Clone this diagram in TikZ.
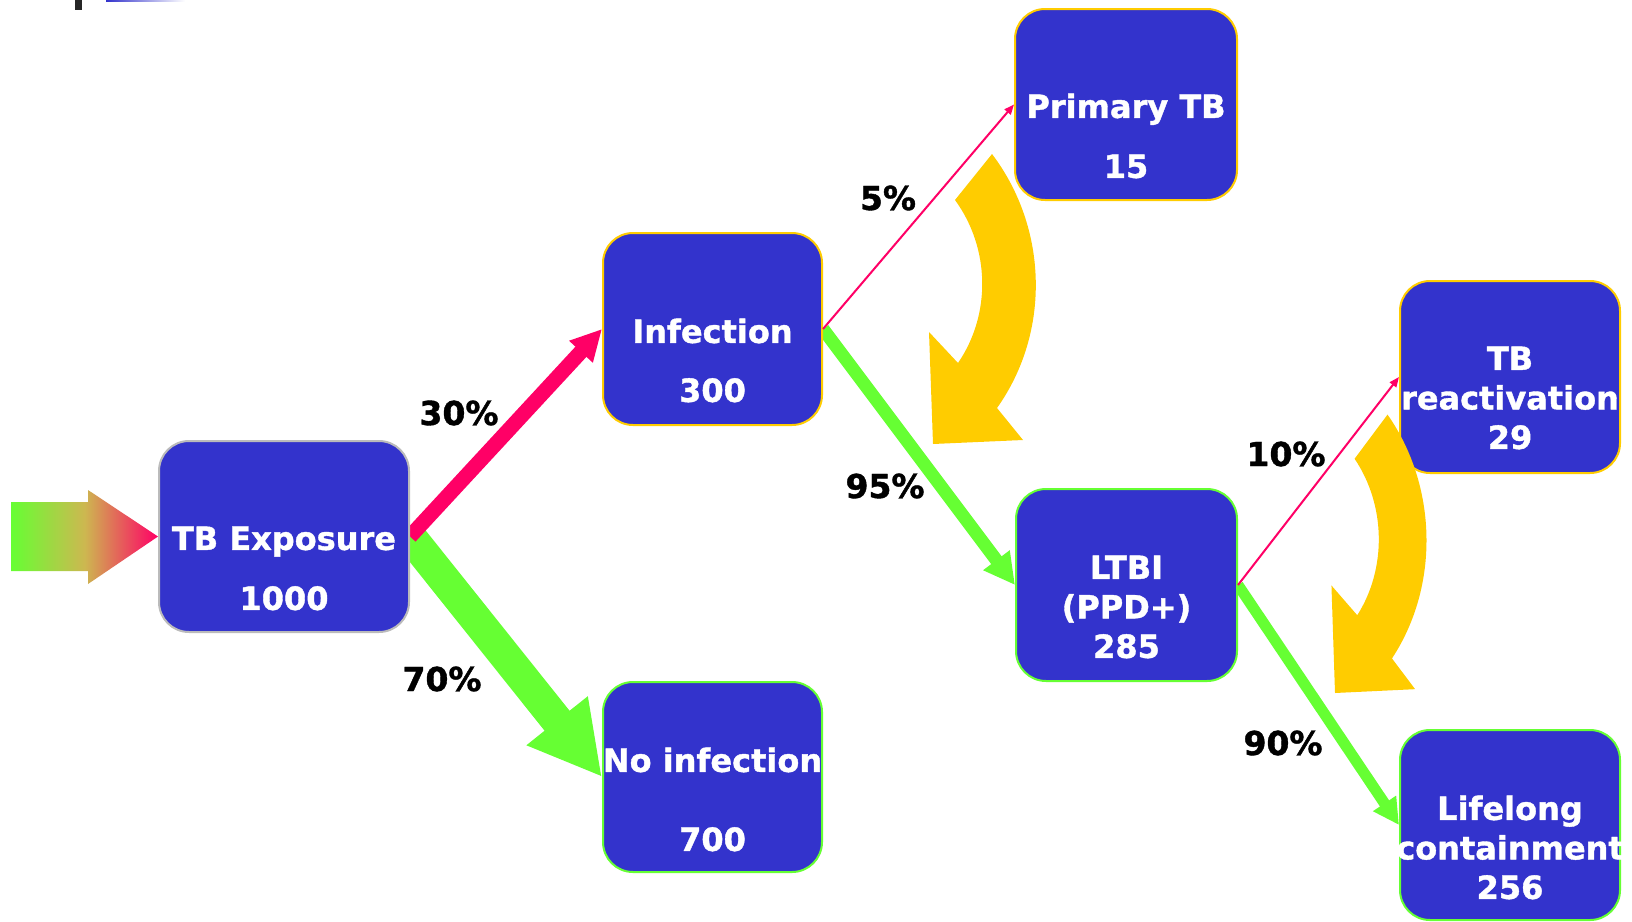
\documentclass[tikz,border=0pt]{standalone}
\usepackage{fontspec}
\setmainfont{DejaVu Sans}[BoldFeatures={FakeBold=1.2}]
\usetikzlibrary{arrows.meta,calc}
\definecolor{boxblue}{HTML}{3333CC}
\definecolor{tbgreen}{HTML}{66FF33}
\definecolor{tbpink}{HTML}{FF0066}
\definecolor{tbyellow}{HTML}{FFCC00}
\definecolor{tbgray}{HTML}{BBBBBB}
\definecolor{tbolive}{HTML}{CDB850}
\pgfdeclarelayer{bg}
\pgfsetlayers{bg,main}
\newcommand\yellowcurve{%
  \fill[tbyellow] (59,-290) .. controls (115,-216) and (118,-112) .. (64,-36)
    -- (90,-4) -- (0,0) -- (-4,-112) -- (25,-81)
    .. controls (58.5,-130) and (57,-196) .. (22,-244) -- cycle;}
\begin{document}
\begin{tikzpicture}[x=1pt,y=-1pt,
  box/.style={draw, line width=2pt, fill=boxblue, rounded corners=30pt, inner sep=0pt},
  txt/.style={text=white, font=\bfseries\fontsize{32}{39.5}\selectfont, align=center, inner sep=0pt},
  lab/.style={text=black, font=\bfseries\fontsize{33}{39.5}\selectfont, inner sep=0pt},
  thinflow/.style={tbpink, line width=2pt, -{Triangle[length=10pt,width=8pt]}}]
\useasboundingbox (0,0) rectangle (1632,921);
% slide remnants
\fill[black!85] (75,0) rectangle (82,10);
\shade[left color=boxblue, right color=white] (106,0) rectangle (185,1.5);
% boxes
\node[box, draw=tbgray, minimum width=250pt, minimum height=191pt] (tbe) at (284,536.5) {};
\node[box, draw=tbyellow, minimum width=219pt, minimum height=192pt] (inf) at (712.5,329) {};
\node[box, draw=tbgreen, minimum width=219pt, minimum height=190pt] (noinf) at (712.5,777) {};
\node[box, draw=tbyellow, minimum width=222pt, minimum height=191pt] (prim) at (1126,104.5) {};
\node[box, draw=tbgreen, minimum width=221pt, minimum height=192pt] (ltbi) at (1126.5,585) {};
\node[box, draw=tbyellow, minimum width=220pt, minimum height=192pt] (react) at (1510,377) {};
\node[box, draw=tbgreen, minimum width=220pt, minimum height=190pt] (life) at (1510,825) {};
% box texts
\node[txt] (tbeT) at ($(tbe.center)+(0,35.5)$) {\strut TB Exposure\\[20.5pt]\strut 1000};
\node[txt] (infT) at ($(inf.center)+(0,35.5)$) {\strut Infection\\[19.5pt]\strut 300};
\node[txt] (noinfT) at ($(noinf.center)+(0,26.5)$) {\strut No infection\\[39.5pt]\strut 700};
\node[txt] (primT) at ($(prim.center)+(0,35.5)$) {\strut Primary TB\\[20.5pt]\strut 15};
\node[txt] (ltbiT) at ($(ltbi.center)+(0,25.5)$) {\strut LTBI\\\strut (PPD+)\\\strut 285};
\node[txt] (reactT) at ($(react.center)+(0,24.5)$) {\strut TB\\\strut reactivation\\\strut 29};
\node[txt] (lifeT) at ($(life.center)+(0,26.5)$) {\strut Lifelong\\\strut containment\\\strut 256};
% flows
\begin{pgfonlayer}{bg}
\shade[left color=tbgreen, right color=tbpink, middle color=tbolive] (11,502) -- (88,502) -- (88,490) -- (tbe.west) -- (88,584) -- (88,571) -- (11,571) -- cycle;
\draw[tbgreen, line width=32pt, -{Triangle[length=72pt,width=73pt]}] (tbe.east) -- (noinf.west);
\draw[tbpink, line width=15pt, -{Triangle[length=31pt,width=30pt]}] (tbe.east) -- (inf.west);
\draw[tbgreen, line width=13pt, -{Triangle[length=31pt,width=31pt]}] (inf.east) -- (ltbi.west);
\draw[tbgreen, line width=11pt, -{Triangle[length=26pt,width=26pt]}] (ltbi.east) -- (life.west);
\end{pgfonlayer}
\draw[thinflow] (inf.east) -- (prim.west);
\draw[thinflow] (ltbi.east) -- (react.west);
% yellow curved arrows
\begin{scope}[shift={(933,444)}]\yellowcurve\end{scope}
\begin{scope}[shift={(1335,693)}, xscale=0.89, yscale=0.96]\yellowcurve\end{scope}
% percentage labels
\node[lab] (l30) at (459,413) {30\%};
\node[lab] (l70) at (442,679) {70\%};
\node[lab] (l5) at (888,198) {5\%};
\node[lab] (l95) at (885,486) {95\%};
\node[lab] (l10) at (1286,454) {10\%};
\node[lab] (l90) at (1283,743) {90\%};
\end{tikzpicture}
\end{document}
